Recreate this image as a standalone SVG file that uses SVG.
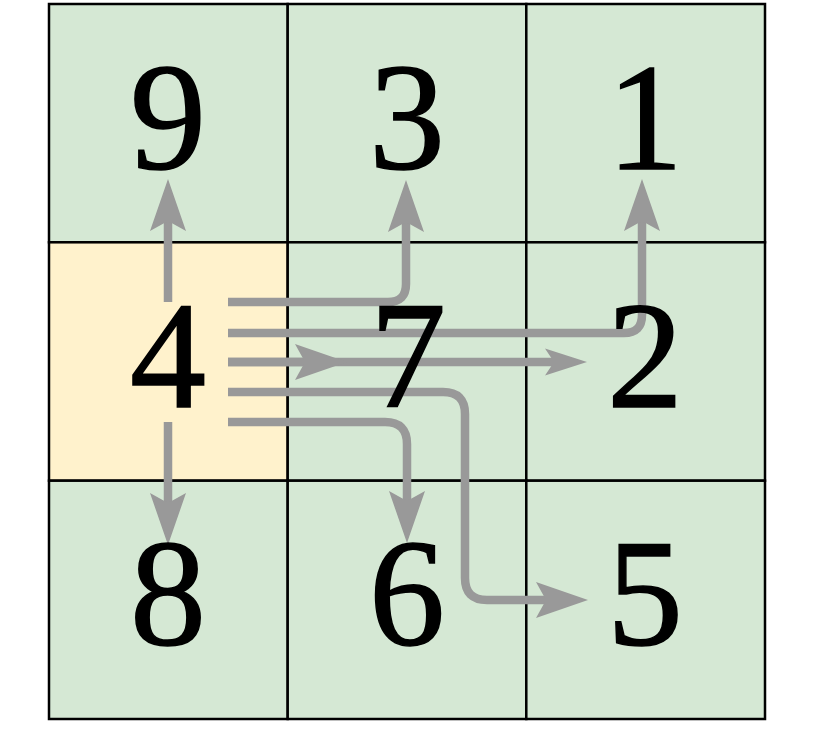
<svg xmlns="http://www.w3.org/2000/svg" width="817" height="738" viewBox="0 0 817 738">
<style>
.cell{fill:#d5e8d4;stroke:#000;stroke-width:2.5}
.hl{fill:#fff2cc}
.lab{font-family:'Liberation Serif', 'Times New Roman', serif;font-size:152px;fill:#000;stroke:#000;stroke-width:1.5;text-anchor:middle}
.c{fill:none;stroke:#999;stroke-width:8.5;stroke-linejoin:round}
.big{marker-end:url(#ah)}
.small{marker-end:url(#as)}
</style>
<defs>
<marker id="ah" markerUnits="userSpaceOnUse" markerWidth="56" markerHeight="40" viewBox="0 -20 56 40" refX="20" refY="0" orient="auto" overflow="visible">
<path d="M52,0 L0,-18 L10,0 L0,18 Z" fill="#999"/>
</marker>
<marker id="as" markerUnits="userSpaceOnUse" markerWidth="46" markerHeight="30" viewBox="0 -15 46 30" refX="16" refY="0" orient="auto" overflow="visible">
<path d="M42,0 L0,-13.5 L9,0 L0,13.5 Z" fill="#999"/>
</marker>
</defs>
<g id="cells">
<rect id="cell-9" class="cell" x="49" y="4" width="238.7" height="238.3"/>
<rect id="cell-3" class="cell" x="287.7" y="4" width="238.6" height="238.3"/>
<rect id="cell-1" class="cell" x="526.3" y="4" width="238.7" height="238.3"/>
<rect id="cell-4" class="cell hl" x="49" y="242.3" width="238.7" height="238.4"/>
<rect id="cell-7" class="cell" x="287.7" y="242.3" width="238.6" height="238.4"/>
<rect id="cell-2" class="cell" x="526.3" y="242.3" width="238.7" height="238.4"/>
<rect id="cell-8" class="cell" x="49" y="480.7" width="238.7" height="238.3"/>
<rect id="cell-6" class="cell" x="287.7" y="480.7" width="238.6" height="238.3"/>
<rect id="cell-5" class="cell" x="526.3" y="480.7" width="238.7" height="238.3"/>
</g>
<g id="connectors">
<path id="e-4-9" class="c big" d="M168,302 V211"/>
<path id="e-4-8" class="c big" d="M168,422 V513"/>
<path id="e-4-3" class="c big" d="M228,302 H388 Q406,302 406,284 V212"/>
<path id="e-4-1" class="c big" d="M228,333 H624 Q642,333 642,315 V211"/>
<path id="e-4-2" class="c small" d="M228,362 H561"/>
<path id="e-4-7" class="c big" d="M228,362 H315"/>
<path id="e-4-5" class="c big" d="M228,392 H443 Q465,392 465,414 V578 Q465,600 487,600 H556"/>
<path id="e-4-6" class="c big" d="M228,422 H385 Q407,422 407,444 V511"/>
</g>
<g id="node-9"><text class="lab" x="168" y="169">9</text></g>
<g id="node-3"><text class="lab" x="407" y="169">3</text></g>
<g id="node-1"><text class="lab" x="645" y="169">1</text></g>
<g id="node-4"><text class="lab" x="168" y="407">4</text></g>
<g id="node-7"><text class="lab" x="408" y="407">7</text></g>
<g id="node-2"><text class="lab" x="645" y="407">2</text></g>
<g id="node-8"><text class="lab" x="168" y="645">8</text></g>
<g id="node-6"><text class="lab" x="407" y="645">6</text></g>
<g id="node-5"><text class="lab" x="645" y="645">5</text></g>
</svg>
